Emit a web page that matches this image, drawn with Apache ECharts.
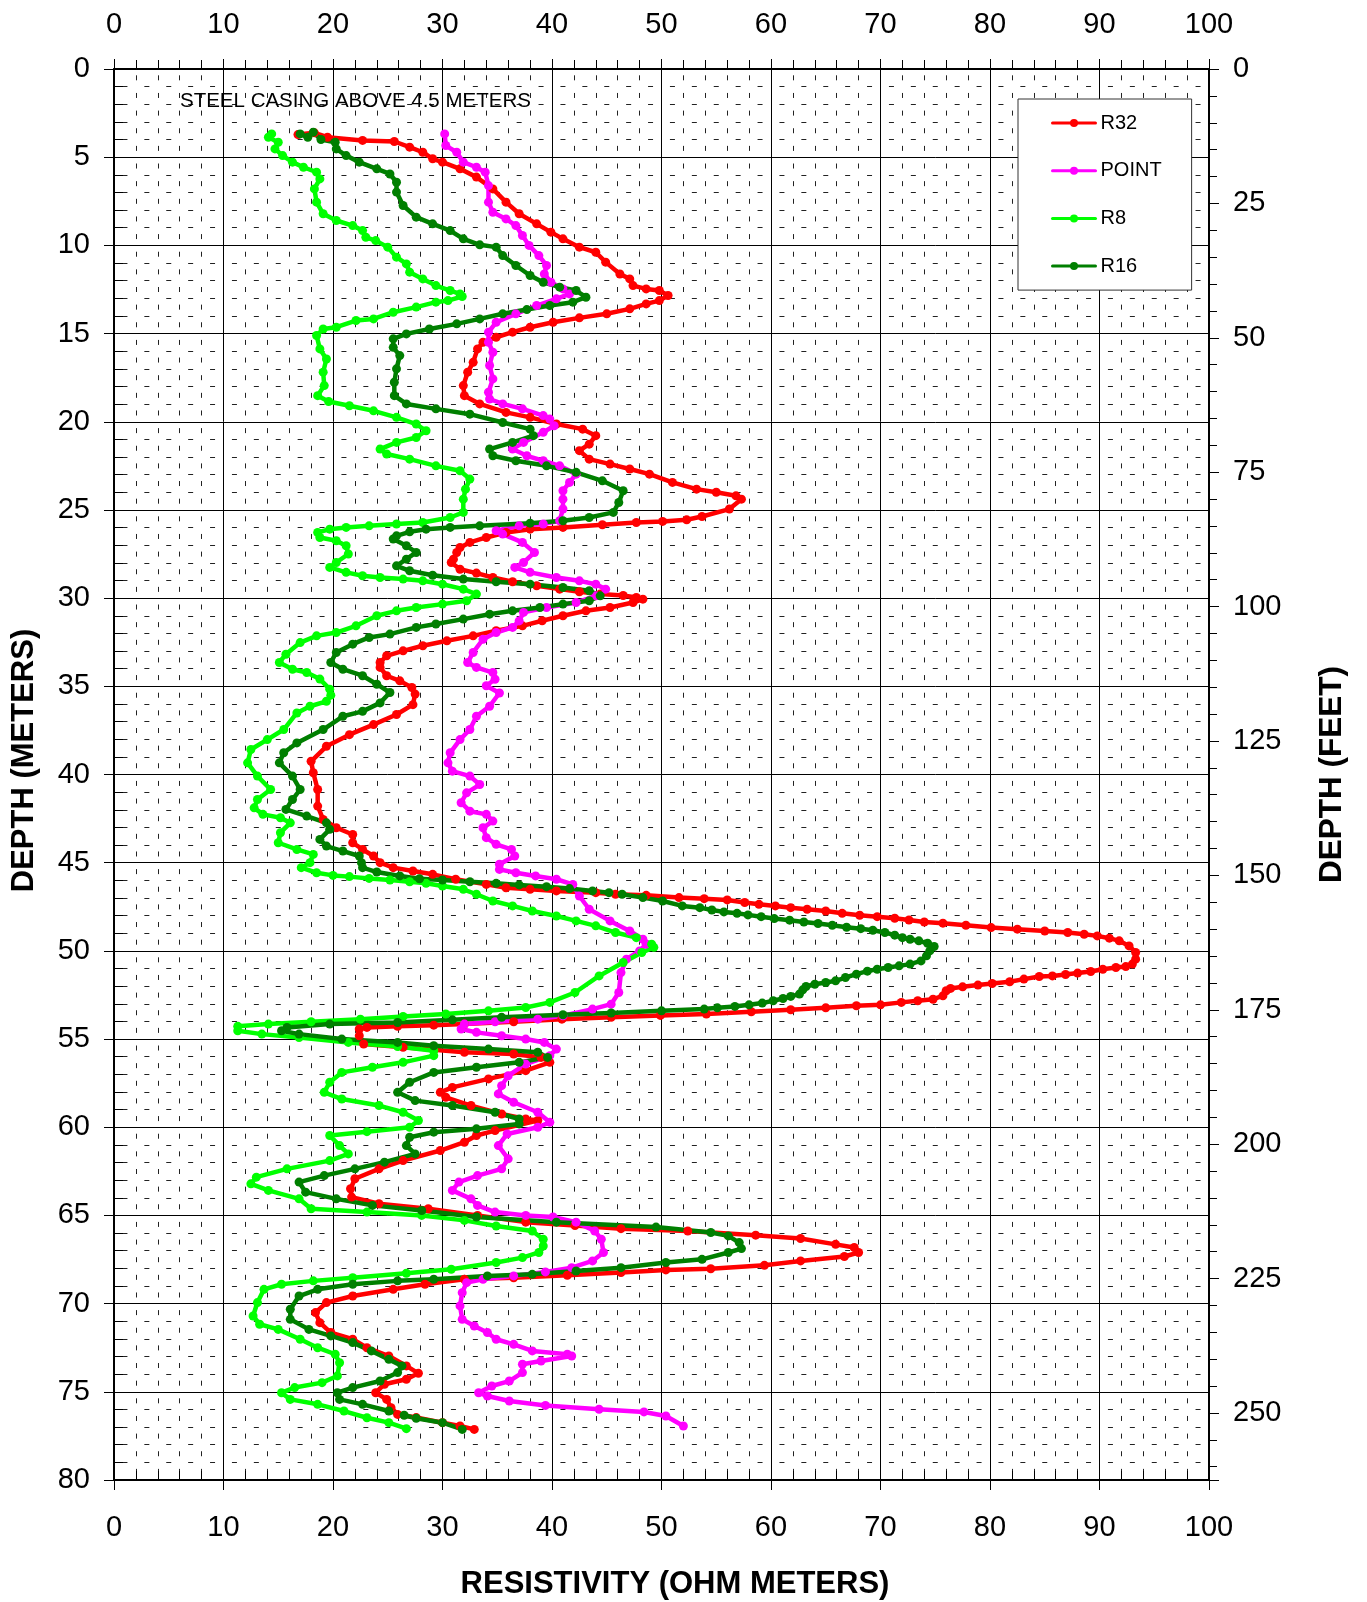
<!DOCTYPE html>
<html><head><meta charset="utf-8">
<script src="https://cdn.jsdelivr.net/npm/echarts@6/dist/echarts.min.js"></script>
<style>html,body{margin:0;padding:0;background:#fff}#chart{width:1367px;height:1602px}</style>
</head><body><div id="chart"></div>
<script>
// [depth (m), resistivity (ohm-m)]
const r32 = [[3.72,16.8],[3.62,18.3],[3.87,19.5],[4.05,22.7],[4.11,25.6],[4.43,27.0],[4.72,28.2],[5.09,29.1],[5.28,30.0],[5.66,31.6],[6.13,33.1],[6.8,34.6],[7.55,35.8],[8.21,37.0],[8.78,38.6],[9.25,39.9],[9.63,41.0],[10.1,42.5],[10.39,44.0],[10.95,44.9],[11.62,46.2],[11.9,47.1],[12.28,47.4],[12.47,48.6],[12.56,49.8],[12.84,50.6],[13.13,49.8],[13.32,48.6],[13.6,47.1],[13.88,45.0],[14.11,42.5],[14.36,40.1],[14.64,38.0],[14.92,36.4],[15.21,34.9],[15.49,33.7],[15.87,33.2],[16.63,32.8],[17.19,32.3],[17.95,31.9],[18.52,32.0],[18.99,33.4],[19.47,35.8],[19.75,38.0],[20.13,40.4],[20.42,42.8],[20.79,44.0],[21.27,43.4],[21.64,42.5],[22.12,43.4],[22.4,45.3],[22.68,47.1],[22.97,48.9],[23.44,51.0],[23.82,53.2],[24.0,55.0],[24.2,56.8],[24.39,57.3],[24.95,56.2],[25.37,53.7],[25.56,52.3],[25.65,50.1],[25.71,47.7],[25.84,44.6],[25.99,41.0],[26.09,38.0],[26.28,35.8],[26.56,34.0],[26.84,32.5],[27.13,31.6],[27.41,31.3],[27.79,31.0],[27.98,30.8],[28.36,31.6],[28.58,33.1],[28.83,34.6],[29.07,36.4],[29.3,38.6],[29.49,40.7],[29.64,42.5],[29.77,44.4],[29.85,46.5],[29.96,47.7],[30.06,48.3],[30.25,47.4],[30.53,45.3],[30.72,43.1],[31.0,41.0],[31.28,39.1],[31.57,37.3],[31.85,34.9],[32.14,32.8],[32.42,30.4],[32.7,28.2],[32.99,26.4],[33.27,24.9],[33.65,24.3],[33.93,24.3],[34.4,24.9],[34.69,26.1],[35.07,27.2],[35.44,27.5],[36.04,27.3],[36.6,25.8],[37.17,23.7],[37.74,21.5],[38.4,19.4],[39.25,18.0],[39.9,18.2],[40.85,18.6],[41.79,18.6],[42.55,19.1],[43.02,20.3],[43.4,21.8],[43.87,21.8],[44.25,22.7],[44.62,23.7],[45.0,24.3],[45.28,25.5],[45.47,27.3],[45.66,29.1],[45.94,31.2],[46.23,34.0],[46.42,35.8],[46.51,38.0],[46.6,40.4],[46.7,44.0],[46.79,45.8],[46.85,48.6],[46.98,51.6],[47.04,53.9],[47.11,56.0],[47.26,57.6],[47.36,58.9],[47.45,60.4],[47.55,61.8],[47.64,63.3],[47.74,65.0],[47.87,66.5],[47.98,68.1],[48.06,69.7],[48.15,71.3],[48.25,72.6],[48.36,74.0],[48.43,75.7],[48.55,77.8],[48.68,80.1],[48.77,82.5],[48.87,85.0],[48.96,87.1],[49.06,88.6],[49.15,89.8],[49.28,90.9],[49.43,91.8],[49.72,92.7],[50.09,93.3],[50.47,93.3],[50.75,93.0],[50.89,92.4],[50.94,91.5],[51.04,90.3],[51.17,89.2],[51.26,88.0],[51.34,86.9],[51.42,85.7],[51.45,84.5],[51.6,83.1],[51.75,81.8],[51.85,80.2],[51.94,78.9],[52.04,77.5],[52.13,76.4],[52.26,76.0],[52.55,75.7],[52.74,74.8],[52.83,73.4],[52.92,71.9],[53.06,70.0],[53.11,67.8],[53.23,65.0],[53.34,61.8],[53.45,58.2],[53.58,54.1],[53.66,49.9],[53.77,45.4],[53.87,40.9],[54.02,36.5],[54.15,32.0],[54.21,29.2],[54.28,25.9],[54.34,23.1],[54.43,22.4],[54.81,22.4],[55.28,22.8],[55.47,26.4],[55.75,32.0],[55.85,36.5],[56.04,39.0],[56.32,39.8],[56.79,37.6],[57.26,34.2],[57.74,30.9],[58.02,29.8],[58.3,30.3],[58.77,32.6],[59.25,35.4],[59.53,37.6],[59.62,38.7],[60.19,34.8],[60.47,33.1],[60.85,32.0],[61.32,29.8],[61.89,26.4],[62.36,24.2],[62.92,22.0],[63.49,21.6],[63.96,21.7],[64.34,24.2],[64.62,28.7],[65.0,33.2],[65.38,37.6],[65.57,42.1],[65.75,46.3],[65.88,52.4],[66.12,58.6],[66.31,62.7],[66.64,65.9],[66.82,67.6],[67.1,68.0],[67.33,66.7],[67.58,62.7],[67.83,59.4],[68.02,54.5],[68.09,50.4],[68.24,46.3],[68.39,41.4],[68.53,36.5],[68.62,32.0],[68.9,28.4],[69.19,25.5],[69.57,21.8],[69.94,19.4],[70.51,18.4],[71.08,18.8],[71.64,19.8],[72.02,21.8],[72.5,23.1],[72.97,25.1],[73.53,26.7],[73.95,27.8],[74.29,26.7],[74.57,24.7],[75.05,23.9],[75.43,24.9],[75.9,25.3],[76.28,25.9],[76.46,27.6],[76.75,30.0],[76.94,31.6],[77.13,32.9]];

const point = [[3.68,30.2],[4.34,30.3],[4.72,31.3],[5.28,31.9],[5.57,33.1],[5.85,33.9],[6.61,34.2],[7.55,34.2],[8.12,34.6],[8.5,35.8],[8.88,36.7],[9.44,37.3],[10.0,37.9],[10.58,38.8],[11.14,39.5],[11.62,39.3],[12.09,39.9],[12.47,41.0],[12.75,41.6],[13.03,40.4],[13.41,38.6],[13.88,36.7],[14.36,34.9],[14.92,34.2],[15.49,34.2],[16.06,34.6],[16.81,34.3],[17.57,34.6],[18.33,34.2],[18.71,34.3],[18.99,35.5],[19.27,37.3],[19.65,39.2],[19.85,39.8],[20.23,40.2],[20.6,39.2],[21.17,37.4],[21.55,36.4],[21.93,37.7],[22.21,39.2],[22.5,40.7],[22.97,42.2],[23.44,41.6],[23.91,41.0],[24.39,41.0],[24.95,41.0],[25.61,40.7],[25.8,39.2],[25.9,37.0],[26.18,34.9],[26.37,35.5],[26.84,37.3],[27.41,38.4],[27.98,37.4],[28.26,36.6],[28.54,38.0],[28.83,40.4],[29.02,42.5],[29.21,44.0],[29.49,44.9],[29.87,44.0],[30.25,42.2],[30.53,39.5],[30.81,37.4],[31.29,37.0],[31.66,36.4],[31.95,34.9],[32.33,33.7],[33.08,32.8],[33.65,32.3],[33.93,33.1],[34.22,34.6],[34.6,34.8],[34.97,34.0],[35.38,35.2],[36.13,34.3],[36.7,33.1],[37.45,32.5],[38.02,31.6],[38.77,30.7],[39.34,30.5],[39.81,30.9],[40.09,32.5],[40.57,33.4],[41.04,32.2],[41.6,31.7],[42.08,32.5],[42.26,34.0],[42.64,34.6],[43.02,33.7],[43.58,34.0],[43.96,34.9],[44.25,36.3],[44.62,36.6],[45.09,35.2],[45.38,35.2],[45.57,36.7],[45.75,38.5],[45.94,40.4],[46.23,41.9],[46.89,42.5],[47.64,43.4],[48.3,45.3],[48.87,47.1],[49.34,48.3],[49.62,48.6],[50.0,48.0],[50.47,46.8],[51.23,46.3],[52.36,46.1],[53.02,45.4],[53.3,43.7],[53.68,41.0],[53.87,38.7],[54.02,34.8],[54.15,32.0],[54.43,31.7],[54.62,33.1],[54.81,35.4],[55.0,37.6],[55.19,39.3],[55.57,40.4],[55.94,39.8],[56.42,37.6],[57.08,36.0],[57.64,35.4],[58.11,35.1],[58.58,36.5],[59.15,38.7],[59.72,39.8],[60.0,38.7],[60.38,35.9],[61.04,35.1],[61.79,36.0],[62.36,35.4],[62.74,33.2],[63.11,31.5],[63.58,30.9],[64.06,32.6],[64.43,33.2],[64.81,34.8],[65.0,37.6],[65.09,40.1],[65.38,42.2],[65.88,43.9],[66.35,44.5],[67.1,44.7],[67.58,43.7],[67.96,41.8],[68.2,39.4],[68.43,36.5],[68.62,33.7],[68.81,32.2],[69.38,31.8],[70.13,31.6],[70.89,31.8],[71.27,32.9],[71.64,34.1],[72.02,34.9],[72.31,36.5],[72.68,38.2],[72.87,41.4],[72.97,41.8],[73.25,39.0],[73.44,37.3],[73.91,37.3],[74.39,36.1],[74.67,34.5],[75.05,33.3],[75.24,34.1],[75.52,36.1],[75.77,39.4],[75.99,44.3],[76.14,48.4],[76.37,50.4],[76.94,52.0]];

const r8 = [[3.68,14.4],[3.87,14.1],[4.15,15.0],[4.53,14.7],[4.91,15.4],[5.28,16.3],[5.57,17.3],[5.85,18.5],[6.23,18.8],[6.8,18.3],[7.55,18.5],[8.21,19.1],[8.59,20.3],[8.88,21.8],[9.16,22.7],[9.54,23.0],[9.73,23.9],[10.1,25.0],[10.67,25.8],[11.05,26.7],[11.52,27.0],[11.9,28.2],[12.28,29.4],[12.56,30.7],[12.75,31.6],[12.9,31.8],[13.13,30.5],[13.22,29.4],[13.5,27.6],[13.79,25.5],[14.17,23.7],[14.26,22.1],[14.64,20.3],[14.74,19.1],[15.11,18.5],[15.87,18.8],[16.44,19.4],[17.19,19.1],[17.95,19.2],[18.52,18.6],[18.85,19.6],[19.09,21.5],[19.38,23.7],[19.75,25.8],[20.13,27.6],[20.51,28.5],[20.89,27.6],[21.17,25.8],[21.55,24.3],[21.83,24.9],[22.12,27.0],[22.5,29.4],[22.78,31.6],[23.25,32.5],[23.82,32.1],[24.39,31.9],[25.14,31.9],[25.43,30.7],[25.71,28.2],[25.8,25.8],[25.9,23.3],[25.99,21.2],[26.09,19.7],[26.28,18.6],[26.56,18.8],[26.75,20.3],[27.03,21.2],[27.5,21.4],[27.98,20.3],[28.26,19.7],[28.54,21.2],[28.73,22.7],[28.83,24.3],[28.92,26.4],[29.02,28.2],[29.21,30.0],[29.49,31.9],[29.77,33.1],[30.15,32.2],[30.34,30.0],[30.53,27.6],[30.72,25.8],[31.0,24.0],[31.57,22.1],[31.95,20.3],[32.14,18.5],[32.52,17.0],[33.18,15.7],[33.65,15.1],[34.03,16.3],[34.22,17.6],[34.59,18.8],[35.16,19.7],[35.5,19.8],[35.85,19.4],[36.13,17.9],[36.51,16.7],[37.45,15.5],[38.02,14.0],[38.58,12.5],[39.34,12.2],[40.09,13.1],[40.85,14.3],[41.42,13.1],[41.89,12.8],[42.26,13.6],[42.45,15.2],[42.74,16.1],[43.3,15.2],[43.87,15.0],[44.25,16.7],[44.53,18.2],[45.0,17.9],[45.28,17.1],[45.57,18.5],[45.72,20.0],[45.79,21.5],[45.89,23.3],[45.98,25.2],[46.08,27.0],[46.17,28.5],[46.32,30.0],[46.51,31.9],[46.79,33.1],[47.17,34.6],[47.45,36.4],[47.74,38.2],[48.02,40.4],[48.3,42.2],[48.58,44.0],[48.96,45.8],[49.25,47.7],[49.62,49.1],[49.8,49.3],[50.09,48.2],[50.66,46.5],[51.42,44.3],[52.36,42.1],[52.92,39.8],[53.21,37.6],[53.4,34.2],[53.58,30.3],[53.72,26.4],[53.87,22.5],[54.02,18.0],[54.15,14.1],[54.28,11.3],[54.53,11.3],[54.72,13.5],[54.91,16.9],[55.19,21.4],[55.42,25.9],[55.66,29.2],[55.94,29.2],[56.32,26.4],[56.6,23.6],[56.89,20.8],[57.45,19.7],[58.02,19.2],[58.4,20.8],[58.77,24.2],[59.15,26.4],[59.62,27.8],[60.0,27.0],[60.25,23.1],[60.47,19.7],[61.04,20.6],[61.51,21.4],[61.89,19.7],[62.36,15.8],[62.83,13.0],[63.21,12.5],[63.58,14.1],[64.06,16.9],[64.62,18.0],[64.81,23.1],[65.0,28.1],[65.28,32.0],[65.6,34.9],[65.88,38.2],[66.35,39.2],[66.73,39.2],[67.1,38.8],[67.39,37.3],[67.67,34.9],[68.05,30.8],[68.28,26.7],[68.53,21.8],[68.71,18.2],[68.9,15.3],[69.19,13.7],[69.94,13.1],[70.7,12.7],[71.17,13.3],[71.46,15.0],[72.02,17.0],[72.5,18.6],[72.87,20.2],[73.35,20.6],[74.1,20.4],[74.48,19.0],[74.76,16.5],[75.05,15.3],[75.43,16.1],[75.71,18.6],[76.09,21.0],[76.47,23.1],[76.75,25.1],[77.09,26.7]];

const r16 = [[3.68,17.0],[3.87,17.7],[3.58,18.2],[4.0,18.9],[4.15,20.2],[4.53,20.3],[4.91,21.2],[5.28,22.4],[5.66,24.0],[5.95,25.2],[6.42,25.8],[6.98,25.8],[7.74,26.4],[8.4,27.6],[8.78,29.1],[9.16,30.7],[9.63,31.9],[9.97,33.4],[10.1,34.9],[10.58,35.5],[11.14,36.7],[11.71,38.0],[12.09,39.2],[12.37,40.7],[12.56,42.2],[12.94,43.1],[13.22,41.9],[13.41,39.8],[13.64,37.7],[13.88,35.5],[14.17,33.4],[14.45,31.3],[14.74,28.8],[15.02,26.7],[15.3,25.5],[15.78,25.5],[16.25,26.1],[17.0,25.8],[17.76,25.6],[18.52,25.6],[18.99,26.7],[19.27,29.4],[19.57,32.5],[20.04,35.5],[20.42,38.0],[20.79,38.3],[21.17,36.4],[21.55,34.3],[21.93,34.6],[22.21,36.7],[22.5,39.5],[22.87,42.2],[23.35,44.6],[23.91,46.5],[24.58,46.1],[25.14,45.6],[25.43,43.4],[25.61,41.0],[25.75,38.0],[25.9,33.4],[25.99,30.7],[26.09,28.5],[26.24,27.0],[26.47,25.8],[26.65,25.5],[27.03,26.7],[27.41,27.6],[27.79,26.7],[28.17,25.8],[28.45,27.0],[28.7,29.1],[28.92,31.9],[29.07,34.9],[29.21,38.0],[29.4,41.0],[29.58,43.4],[29.87,44.4],[30.15,43.4],[30.34,41.0],[30.53,38.9],[30.72,36.4],[30.91,34.3],[31.19,31.9],[31.47,29.4],[31.66,27.6],[32.04,25.2],[32.23,23.3],[32.61,21.8],[33.08,20.3],[33.65,19.8],[34.03,20.9],[34.4,22.7],[34.88,24.0],[35.35,25.2],[35.94,24.3],[36.42,22.7],[36.7,20.9],[37.45,19.1],[38.21,16.7],[38.77,15.5],[39.34,15.1],[40.09,16.3],[40.85,17.0],[41.42,16.3],[41.98,15.7],[42.36,17.6],[42.74,19.4],[43.11,19.7],[43.68,18.8],[44.06,19.4],[44.34,20.9],[44.62,22.4],[45.0,22.6],[45.28,22.7],[45.53,24.0],[45.75,26.1],[45.91,27.9],[45.98,30.0],[46.08,32.5],[46.17,34.9],[46.26,37.0],[46.36,39.5],[46.47,41.6],[46.6,43.7],[46.7,45.2],[46.79,46.4],[46.98,48.3],[47.17,50.1],[47.45,51.9],[47.55,53.5],[47.68,54.6],[47.79,55.7],[47.87,56.9],[47.96,57.9],[48.06,59.1],[48.17,60.3],[48.26,61.7],[48.36,63.0],[48.45,64.3],[48.55,65.6],[48.66,66.9],[48.74,68.2],[48.83,69.3],[48.96,70.4],[49.11,71.3],[49.25,72.0],[49.34,72.7],[49.43,73.5],[49.57,74.3],[49.75,74.9],[50.0,74.5],[50.28,74.2],[50.57,73.7],[50.75,72.7],[50.85,71.7],[50.94,70.7],[51.04,69.7],[51.15,68.8],[51.32,67.8],[51.51,66.8],[51.7,65.9],[51.79,65.0],[51.89,64.0],[52.02,63.2],[52.21,62.9],[52.45,62.6],[52.58,61.8],[52.7,61.1],[52.83,60.2],[52.96,59.2],[53.06,58.0],[53.15,56.7],[53.23,55.1],[53.3,53.9],[53.4,50.0],[53.52,45.4],[53.62,41.0],[53.77,35.4],[53.91,30.9],[54.06,25.9],[54.15,19.7],[54.34,15.8],[54.53,15.3],[54.72,16.9],[55.0,20.8],[55.19,25.9],[55.38,29.2],[55.57,34.2],[55.75,38.7],[56.04,39.6],[56.32,37.0],[56.6,33.1],[56.89,29.2],[57.45,27.0],[58.02,25.9],[58.49,27.5],[58.77,30.9],[59.15,34.8],[59.53,37.0],[59.81,37.0],[60.09,33.1],[60.28,29.2],[60.57,27.0],[61.04,26.7],[61.51,27.5],[61.98,24.7],[62.36,22.0],[62.74,19.2],[63.11,16.9],[63.68,17.5],[64.06,20.3],[64.43,23.6],[64.72,28.1],[65.09,33.1],[65.38,40.4],[65.66,49.5],[65.97,54.5],[66.16,56.1],[66.54,57.1],[66.88,57.3],[67.1,56.1],[67.49,53.7],[67.67,50.4],[67.96,46.3],[68.15,42.2],[68.34,38.2],[68.43,34.1],[68.62,29.2],[68.71,25.9],[68.9,21.8],[69.19,18.6],[69.57,16.9],[70.32,16.1],[70.89,16.1],[71.46,17.8],[71.83,19.8],[72.21,21.8],[72.68,23.5],[73.16,25.1],[73.53,26.3],[73.91,25.9],[74.39,24.3],[74.76,21.8],[75.05,20.4],[75.43,20.6],[75.71,22.7],[76.09,25.1],[76.33,26.5],[76.5,27.6],[76.75,30.0],[77.13,31.8]];

const seriesNames = ['R32', 'POINT', 'R8', 'R16'];
const seriesColors = ['#ff0000', '#ff00ff', '#00ff00', '#007f00'];
const seriesData = [r32, point, r8, r16];
const resistivityRange = [0, 100, 10];
const depthRangeM = [0, 80, 5];
const feetTickStep = 25;
const annotation = 'STEEL CASING ABOVE 4.5 METERS';

const FONT = '"Liberation Sans", Arial, Helvetica, sans-serif';
const chart = echarts.init(document.getElementById('chart'), null, {renderer: 'canvas'});

function xAxisCfg(pos) {
  const bottom = pos === 'bottom';
  return {
    type: 'value', position: pos, min: resistivityRange[0], max: resistivityRange[1], interval: resistivityRange[2],
    name: bottom ? 'RESISTIVITY (OHM METERS)' : '',
    nameLocation: 'middle', nameGap: 89,
    nameTextStyle: {fontFamily: FONT, fontSize: 31, fontWeight: 'bold', color: '#000', padding: [0, 0, 0, 27]},
    axisLine: {show: true, onZero: false, lineStyle: {color: '#000', width: 2}},
    axisTick: {show: true, length: 10, lineStyle: {color: '#000', width: 1}},
    minorTick: {show: true, splitNumber: 5, length: bottom ? -9 : 9, lineStyle: {color: '#000', width: 1}},
    axisLabel: {fontFamily: FONT, fontSize: 29, color: '#000', margin: bottom ? 33 : 30},
    splitLine: {show: bottom, lineStyle: {color: '#000', width: 1}},
    minorSplitLine: {show: bottom, lineStyle: {color: '#222', width: 1, type: [5, 12.64], dashOffset: 11.32}}
  };
}

const option = {
  animation: false,
  backgroundColor: '#fff',
  grid: {left: 114, top: 69, width: 1095, height: 1411, containLabel: false, outerBoundsMode: 'none'},
  legend: {
    orient: 'vertical', left: 1018, top: 99,
    padding: [14, 30, 14, 33],
    itemWidth: 43, itemHeight: 10, itemGap: 27.7,
    backgroundColor: '#fff', borderColor: '#333', borderWidth: 1, borderRadius: 0,
    textStyle: {fontFamily: FONT, fontSize: 20, color: '#000', lineHeight: 20},
    data: seriesNames.map(n => ({name: n, itemStyle: {}, lineStyle: {width: 3}}))
  },
  xAxis: [xAxisCfg('bottom'), xAxisCfg('top')],
  yAxis: [
    {
      type: 'value', position: 'left', inverse: true, min: depthRangeM[0], max: depthRangeM[1], interval: depthRangeM[2],
      name: 'DEPTH (METERS)', nameLocation: 'middle', nameRotate: 90, nameGap: 74,
      nameTextStyle: {fontFamily: FONT, fontSize: 31, fontWeight: 'bold', color: '#000', padding: [0, 0, 0, 28]},
      axisLine: {show: true, onZero: false, lineStyle: {color: '#000', width: 2}},
      axisTick: {show: true, length: 10, lineStyle: {color: '#000', width: 1}},
      minorTick: {show: true, splitNumber: 5, length: -9, lineStyle: {color: '#000', width: 1}},
      axisLabel: {fontFamily: FONT, fontSize: 29, color: '#000', margin: 24},
      splitLine: {show: true, lineStyle: {color: '#000', width: 1}},
      minorSplitLine: {show: true, lineStyle: {color: '#222', width: 1, type: [5, 16.9], dashOffset: 13.45}}
    },
    {
      type: 'value', position: 'right', inverse: true, min: 0, max: depthRangeM[1] / 0.3048, interval: feetTickStep,
      name: 'DEPTH (FEET)', nameLocation: 'middle', nameRotate: 90, nameGap: 107,
      nameTextStyle: {fontFamily: FONT, fontSize: 31.5, fontWeight: 'bold', color: '#000'},
      axisLine: {show: true, onZero: false, lineStyle: {color: '#000', width: 2}},
      axisTick: {show: true, length: 10, lineStyle: {color: '#000', width: 1}},
      minorTick: {show: true, splitNumber: 5, length: 8, lineStyle: {color: '#000', width: 1}},
      axisLabel: {fontFamily: FONT, fontSize: 29, color: '#000', margin: 24, showMaxLabel: false},
      splitLine: {show: false}
    }
  ],
  graphic: [{
    type: 'text', left: 180, top: 91, z: 10,
    style: {text: annotation, fontFamily: FONT, fontSize: 20.5, fill: '#000'}
  }],
  series: seriesNames.map((name, i) => ({
    name, type: 'line', xAxisIndex: 0, yAxisIndex: 0,
    data: seriesData[i].map(p => [p[1], p[0]]),
    symbol: 'circle', symbolSize: 9, showSymbol: true, showAllSymbol: true,
    lineStyle: {color: seriesColors[i], width: 4.5, join: 'round', cap: 'round'},
    itemStyle: {color: seriesColors[i]},
    emphasis: {disabled: true}
  }))
};
chart.setOption(option);
</script>
</body></html>
